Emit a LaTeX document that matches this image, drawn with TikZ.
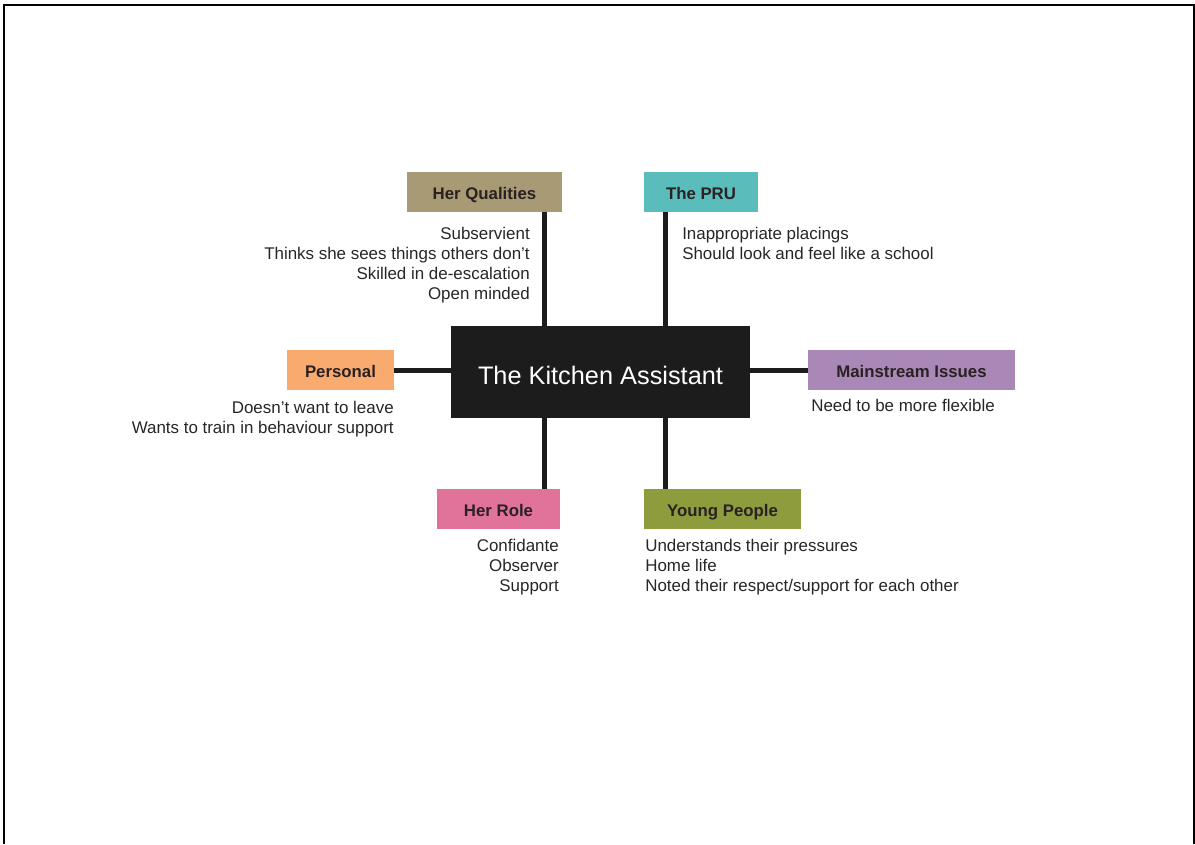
\documentclass[tikz,border=0pt]{standalone}
\usepackage{fontspec}
\setmainfont{Liberation Sans}
\usepackage{xcolor}
\usetikzlibrary{positioning}
\definecolor{kaink}{HTML}{1C1C1C}
\definecolor{katext}{HTML}{262626}
\definecolor{kalabel}{HTML}{2A2122}
\definecolor{kaqual}{HTML}{A89A74}
\definecolor{kapru}{HTML}{5BBDBB}
\definecolor{kapers}{HTML}{F9AB6F}
\definecolor{kamain}{HTML}{A987B7}
\definecolor{karole}{HTML}{E1729A}
\definecolor{kayoung}{HTML}{8E9C3E}
\begin{document}
\begin{tikzpicture}[x=0.75pt,y=-0.75pt,
  hub/.style={fill=kaink,text=white,minimum width=224pt,minimum height=69pt,
    text height=20pt,text depth=1.7pt,font=\fontsize{19}{23}\selectfont},
  cat/.style={minimum height=30pt,inner sep=0pt,text=kalabel,
    text height=12.5pt,text depth=2pt,font=\fontsize{12.6}{15}\selectfont\bfseries},
  list/.style={inner sep=0pt,text=katext,font=\fontsize{12.7}{15}\selectfont},
  spoke/.style={line width=3.75pt,draw=kaink}]
\useasboundingbox (0,0) rectangle (1195,844);
\draw[line width=1.5pt] (4,844) -- (4,5) -- (1193.5,5) -- (1193.5,844);
\node[hub] (hub) at (600.5,372) {The Kitchen Assistant};
\node[cat,fill=kaqual,minimum width=116.25pt] (qual) at (484.5,192) {Her Qualities};
\node[cat,fill=kapru,minimum width=85.5pt] (pru) at (701,192) {The PRU};
\node[cat,fill=kapers,minimum width=80.25pt] (pers) at (340.5,370) {Personal};
\node[cat,fill=kamain,minimum width=155.25pt] (main) at (911.5,370) {Mainstream Issues};
\node[cat,fill=karole,minimum width=92.25pt] (role) at (498.5,509) {Her Role};
\node[cat,fill=kayoung,minimum width=117.75pt] (young) at (722.5,509) {Young People};
\draw[spoke] (qual.south -| 544,0) -- (hub.north -| 544,0);
\draw[spoke] (pru.south -| 665,0) -- (hub.north -| 665,0);
\draw[spoke] (role.north -| 544,0) -- (hub.south -| 544,0);
\draw[spoke] (young.north -| 665,0) -- (hub.south -| 665,0);
\draw[spoke] (pers.east) -- (pers.east -| hub.west);
\draw[spoke] (main.west) -- (main.west -| hub.east);
\node[list,align=right,anchor=north east] (quallist) at (530,227)
  {Subservient\\Thinks she sees things others don’t\\Skilled in de-escalation\\Open minded};
\node[list,align=left,anchor=north west] (prulist) at (682,227)
  {Inappropriate placings\\Should look and feel like a school};
\node[list,align=right,anchor=north east] (perslist) at (394,401)
  {Doesn’t want to leave\\Wants to train in behaviour support};
\node[list,align=left,anchor=north west] (mainlist) at (811,399)
  {Need to be more flexible};
\node[list,align=right,anchor=north east] (rolelist) at (559,539)
  {Confidante\\Observer\\Support};
\node[list,align=left,anchor=north west] (younglist) at (645,539)
  {Understands their pressures\\Home life\\Noted their respect/support for each other};
\end{tikzpicture}
\end{document}
